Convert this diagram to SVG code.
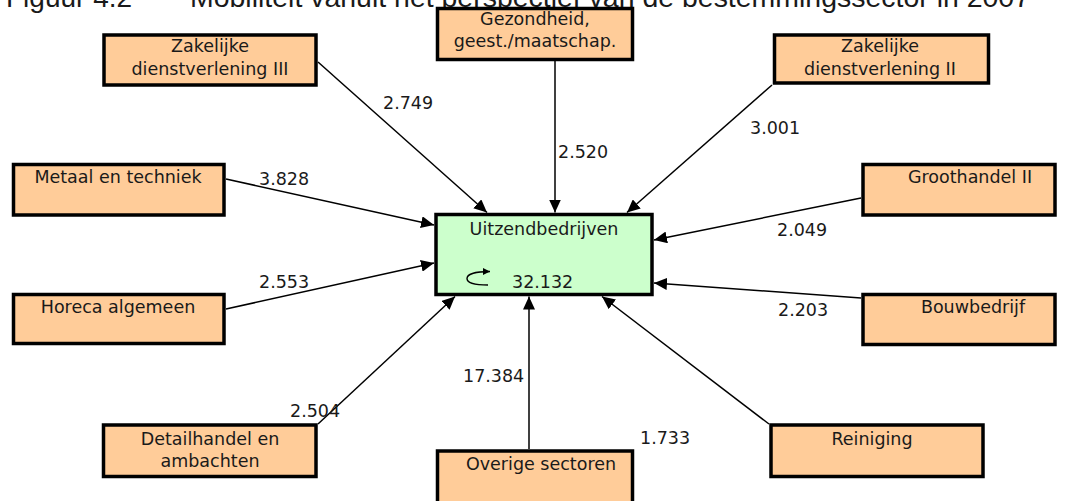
<svg xmlns="http://www.w3.org/2000/svg" width="1068" height="501" viewBox="0 0 1068 501">
<defs>
<marker id="arr" markerUnits="userSpaceOnUse" markerWidth="14" markerHeight="12" refX="13" refY="6" orient="auto">
<path d="M0,0 L13,6 L0,12 z" fill="#000"/>
</marker>
<marker id="arrs" markerUnits="userSpaceOnUse" markerWidth="8" markerHeight="8" refX="7" refY="4" orient="auto">
<path d="M0,0.5 L7,4 L0,7.5 z" fill="#000"/>
</marker>
<style>
.box{fill:#FFCC99;stroke:#000;stroke-width:3.5}
.hub{fill:#CCFFCC;stroke:#000;stroke-width:3.5}
.t{font-family:"DejaVu Sans",Verdana,sans-serif;font-size:17.5px;fill:#1a1a1a;text-anchor:middle}
.l{font-family:"DejaVu Sans",Verdana,sans-serif;font-size:17.5px;fill:#1a1a1a}
.c{stroke:#000;stroke-width:1.5;fill:none;marker-end:url(#arr)}
.title{font-family:"Liberation Sans",Arial,sans-serif;font-size:28px;fill:#1a1a1a}
</style>
</defs>
<rect width="1068" height="501" fill="#fff"/>
<g id="title">
<text class="title" x="6" y="7">Figuur 4.2</text>
<text class="title" x="190" y="7" textLength="840" lengthAdjust="spacingAndGlyphs">Mobiliteit vanuit het perspectief van de bestemmingssector in 2007</text>
</g>
<g id="connectors">
<line class="c" x1="318" y1="62" x2="487" y2="212.5"/>
<line class="c" x1="555" y1="61" x2="555" y2="212.5"/>
<line class="c" x1="772" y1="85" x2="627" y2="212.5"/>
<line class="c" x1="226" y1="179" x2="434" y2="225"/>
<line class="c" x1="226" y1="309" x2="434" y2="263"/>
<line class="c" x1="318" y1="424" x2="455" y2="296.5"/>
<line class="c" x1="529" y1="449" x2="529" y2="296.5"/>
<line class="c" x1="769" y1="424" x2="602" y2="296.5"/>
<line class="c" x1="861" y1="198" x2="654" y2="240"/>
<line class="c" x1="861" y1="298" x2="654" y2="283"/>
</g>
<g id="labels">
<text class="l" x="383" y="109">2.749</text>
<text class="l" x="558" y="158">2.520</text>
<text class="l" x="750" y="134">3.001</text>
<text class="l" x="259" y="185">3.828</text>
<text class="l" x="259" y="288">2.553</text>
<text class="l" x="290" y="417">2.504</text>
<text class="l" x="463" y="382">17.384</text>
<text class="l" x="640" y="444">1.733</text>
<text class="l" x="777" y="236">2.049</text>
<text class="l" x="778" y="316">2.203</text>
</g>
<g id="n-uitzend">
<rect class="hub" x="436" y="214.5" width="216" height="80"/>
<text class="t" x="544" y="235">Uitzendbedrijven</text>
<path d="M488,285 C476,285 467,283 467,278.5 C467,274 476,271.5 490,271.5" stroke="#000" stroke-width="1.4" fill="none" marker-end="url(#arrs)"/>
<text class="l" x="512" y="288">32.132</text>
</g>
<g id="n-zd3">
<rect class="box" x="104" y="35" width="212" height="50"/>
<text class="t" x="210" y="52">Zakelijke</text>
<text class="t" x="210" y="75">dienstverlening III</text>
</g>
<g id="n-gez">
<rect class="box" x="437.5" y="8.5" width="195" height="51"/>
<text class="t" x="535" y="25">Gezondheid,</text>
<text class="t" x="535" y="47">geest./maatschap.</text>
</g>
<g id="n-zd2">
<rect class="box" x="774.5" y="35" width="214" height="48"/>
<text class="t" x="880" y="52">Zakelijke</text>
<text class="t" x="880" y="75">dienstverlening II</text>
</g>
<g id="n-metaal">
<rect class="box" x="13.5" y="164.5" width="210.5" height="50.5"/>
<text class="t" x="118" y="183">Metaal en techniek</text>
</g>
<g id="n-horeca">
<rect class="box" x="13.5" y="294.5" width="210.5" height="49"/>
<text class="t" x="118" y="313">Horeca algemeen</text>
</g>
<g id="n-detail">
<rect class="box" x="103.5" y="425" width="212.5" height="51.5"/>
<text class="t" x="210" y="445">Detailhandel en</text>
<text class="t" x="210" y="467">ambachten</text>
</g>
<g id="n-overige">
<rect class="box" x="437.5" y="451" width="195" height="60"/>
<text class="t" x="541" y="470">Overige sectoren</text>
</g>
<g id="n-groothandel">
<rect class="box" x="863" y="164.5" width="192" height="50.5"/>
<text class="t" x="970" y="183">Groothandel II</text>
</g>
<g id="n-bouw">
<rect class="box" x="863" y="294.5" width="192" height="50"/>
<text class="t" x="973" y="313">Bouwbedrijf</text>
</g>
<g id="n-reiniging">
<rect class="box" x="771" y="425" width="212" height="51.5"/>
<text class="t" x="872" y="445">Reiniging</text>
</g>
</svg>
